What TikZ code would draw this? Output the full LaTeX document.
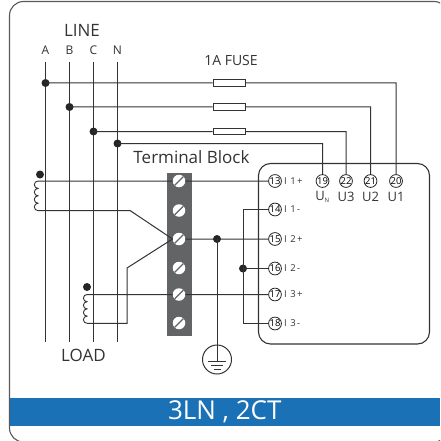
\documentclass[tikz,border=0pt]{standalone}
\usepackage{fontspec}
\setmainfont{Open Sans}
\newfontfamily\termfont[LetterSpace=12]{Open Sans}
\usetikzlibrary{positioning}
\definecolor{wire}{HTML}{333333}
\definecolor{blockgray}{HTML}{636466}
\definecolor{bandblue}{HTML}{1A71B5}
\tikzset{
  wires/.style={draw=wire,line width=1pt},
  jointdot/.style={circle,fill=black!85,inner sep=0pt,minimum size=8pt},
  phase/.style={font=\fontsize{12}{12}\selectfont,text=wire,minimum height=24pt,inner sep=0pt},
  fuse/.style={draw=wire,fill=white,line width=.9pt,minimum width=32pt,minimum height=6.5pt,inner sep=0pt},
  term/.style={circle,draw=black!85,fill=white,line width=.8pt,inner sep=0pt,minimum size=12pt,font=\fontsize{9.5}{9.5}\selectfont},
  termtext/.style={anchor=west,font=\termfont\fontsize{9.5}{9.5}\selectfont,text=wire,inner sep=0pt},
  uname/.style={font=\fontsize{13}{13}\selectfont,text=wire,inner sep=0pt},
  caption/.style={font=\fontsize{17}{17}\selectfont,text=black!80,inner sep=0pt},
  screw/.style={circle,fill=white,inner sep=0pt,minimum size=12.5pt,path picture={
      \draw[line width=1.4pt,blockgray] (path picture bounding box.south west) -- (path picture bounding box.north east);}}
}
\begin{document}
\begin{tikzpicture}[x=1pt,y=-1pt,on grid]
  \clip (0,0) rectangle (440,441);
  \useasboundingbox (0,0) rectangle (440,441);
  \node(frame)[draw=black!65,line width=1.1pt,rounded corners=14pt,minimum width=438.5pt,minimum height=440.5pt] at (228.75,221.75) {};
  \node(band)[fill=bandblue,text=white,font=\fontsize{26}{26}\selectfont,minimum width=430.5pt,minimum height=27.5pt,inner sep=0pt] at (224.75,412) {3LN , 2CT};

  % line side
  \node(LINE)[caption] at (82,30) {LINE};
  \node(A)[phase] at (45.5,50) {A};
  \node(B)[phase,right=24pt of A] {B};
  \node(C)[phase,right=24pt of B] {C};
  \node(N)[phase,right=24pt of C] {N};
  \node(LOAD)[caption] at (83.5,355) {LOAD};
  \coordinate(Aend) at (45.5,342);
  \coordinate(Bend) at (69.5,342);
  \coordinate(Cend) at (93.5,342);
  \coordinate(Nend) at (117.5,342);
  \draw[wires] (A) -- (Aend) (B) -- (Bend) (C) -- (Cend) (N) -- (Nend);

  % fuses
  \node(fuseLabel)[font=\fontsize{14}{14}\selectfont,text=wire,inner sep=0pt] at (231,60.5) {1A FUSE};
  \node(fuseA)[fuse] at (229,83) {};
  \node(fuseB)[fuse] at (229,107) {};
  \node(fuseC)[fuse] at (229,131.5) {};
  \node(dotA)[jointdot] at (A |- fuseA) {};
  \node(dotB)[jointdot] at (B |- fuseB) {};
  \node(dotC)[jointdot] at (C |- fuseC) {};
  \node(dotN)[jointdot] at (117.5,143.5) {};

  % meter
  \node(meter)[draw=black!80,line width=1.1pt,rounded corners=12pt,minimum width=171pt,minimum height=180.5pt] at (344,253.75) {};
  \foreach \n/\ypos/\txt in {13/181/I 1+,14/209.5/I 1-,15/239/I 2+,16/268.5/I 2-,17/294.5/I 3+,18/323.5/I 3-}{
    \node(t\n)[term] at (275,\ypos) {\n};
    \node(l\n)[termtext] at (284,\ypos) {\txt};
  }
  \node(t19)[term] at (322.5,181) {19};
  \node(t22)[term,right=23.5pt of t19] {22};
  \node(t21)[term,right=24.5pt of t22] {21};
  \node(t20)[term,right=25.5pt of t21] {20};
  \node(uN)[uname,below=16pt of t19] {U\textsubscript{\fontsize{6}{6}\selectfont N}};
  \node(u3)[uname,below=16pt of t22] {U3};
  \node(u2)[uname,below=16pt of t21] {U2};
  \node(u1)[uname,below=16pt of t20] {U1};

  % terminal block
  \node(tblabel)[caption] at (191.5,157) {Terminal Block};
  \node(block)[fill=blockgray,minimum width=25pt,minimum height=163pt,inner sep=0pt] at (179.5,254.5) {};
  \foreach \n/\ypos in {1/181,2/210.5,3/239,4/268,5/294.5,6/323}{
    \node(s\n)[screw] at (179,\ypos) {};
  }

  % current transformers
  \node(dotCTa)[jointdot] at (40,174.5) {};
  \node(dotCTb)[jointdot] at (87,287) {};
  \coordinate(cta) at (38,181);
  \coordinate(ctb) at (87,294.5);
  \draw[wires,line width=.9pt] (cta) \foreach \i in {1,2,3,4}{arc[start angle=90,end angle=270,radius=3.7pt]} coordinate(ctaend);
  \draw[wires,line width=.9pt] (ctb) \foreach \i in {1,2,3,4}{arc[start angle=90,end angle=270,radius=3.6pt]} coordinate(ctbend);
  \coordinate(benda) at (130,210.5);
  \coordinate(bendb) at (127,268);

  % wiring
  \draw[wires]
    (dotA.center) -- (fuseA) (fuseA) -| (t20)
    (dotB.center) -- (fuseB) (fuseB) -| (t21)
    (dotC.center) -- (fuseC) (fuseC) -| (t22)
    (dotN.center) -| (t19)
    (cta) -- (s1) (s1) -- (t13)
    (ctb) -- (s5) (s5) -- (t17)
    (ctaend) -- (benda) -- (s3.west)
    (ctbend) -| (bendb) -- (s3.west)
    (s3) -- (t15);
  \node(dotGnd)[jointdot] at (217,239) {};
  \node(dotBus)[jointdot] at (243,268.5) {};
  \draw[wires]
    (dotBus.center) -- (t16)
    (t14) -| (dotBus.center)
    (t18) -| (dotBus.center);

  % ground
  \node(gnd)[circle,draw=black!80,fill=white,line width=1pt,inner sep=0pt,minimum size=29pt] at (217,359.5) {};
  \coordinate(gndTop) at (217,361);
  \coordinate(gndL) at (208,361);
  \coordinate(gndR) at (226,361);
  \coordinate(gndMidL) at (211,365);
  \coordinate(gndMidR) at (223,365);
  \coordinate(gndLowL) at (213.5,369);
  \coordinate(gndLowR) at (220.5,369);
  \draw[wires] (dotGnd.center) -- (gndTop) (gndL) -- (gndR) (gndMidL) -- (gndMidR) (gndLowL) -- (gndLowR);
\end{tikzpicture}
\end{document}
